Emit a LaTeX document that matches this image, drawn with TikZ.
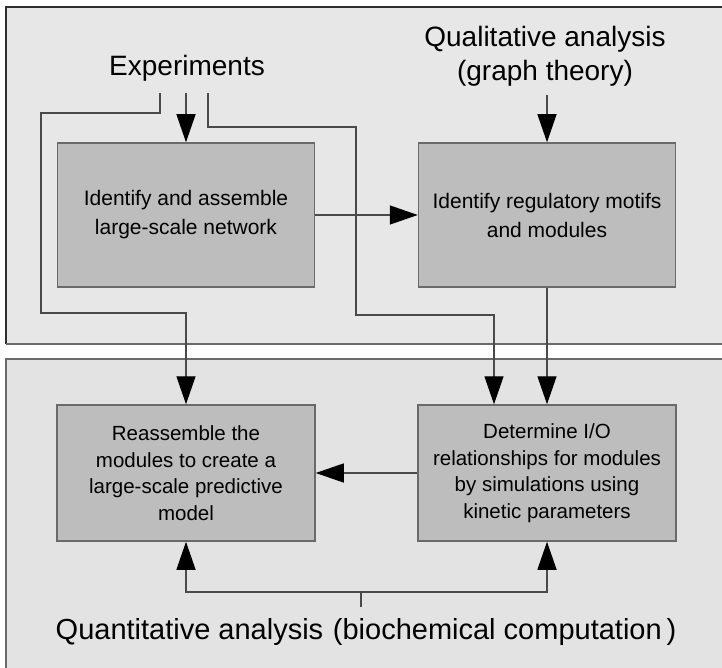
\documentclass[tikz,border=0pt]{standalone}
\usepackage{fontspec}
\setmainfont{Liberation Sans}
\usetikzlibrary{arrows.meta}
\definecolor{panelA}{HTML}{E7E7E7}
\definecolor{panelB}{HTML}{E3E3E3}
\definecolor{boxfill}{HTML}{BDBDBD}
\definecolor{boxline}{HTML}{6A6A6A}
\definecolor{conn}{HTML}{4A4A4A}
\definecolor{frame}{HTML}{2E2E2E}
\tikzset{
  boxnode/.style={draw=boxline, line width=1.5pt, fill=boxfill, inner sep=0pt, align=center},
  toptext/.style={font=\fontsize{21}{29}\selectfont},
  bottext/.style={font=\fontsize{20.5}{26.5}\selectfont},
  biglabel/.style={font=\fontsize{28}{34}\selectfont, inner sep=0pt, align=center},
  conline/.style={draw=conn, line width=1.3pt},
  arr/.style={conline, -{Triangle[length=28pt,width=19pt,color=black]}},
}
\begin{document}
\begin{tikzpicture}[x=1pt,y=-1pt]
\useasboundingbox (0,0) rectangle (722,668);
\fill[white] (0,0) rectangle (722,668);
% panels
\fill[panelA] (6,7) rectangle (730,344);
\draw[frame, line width=2pt] (6,344) -- (6,7) -- (730,7);
\draw[boxline, line width=1.3pt] (6,344) -- (730,344);
\fill[panelB] (6,359) rectangle (730,680);
\draw[boxline, line width=1.3pt] (6,680) -- (6,359) -- (730,359);
% labels
\node[biglabel] (exp) at (187,68) {Experiments};
\node[biglabel] (qual) at (545,56) {Qualitative analysis\\(graph theory)};
\node[biglabel, font=\fontsize{29}{34}\selectfont] (quant) at (366,632) {Quantitative analysis\,\,(biochemical computation\,)};
% boxes
\node[boxnode, toptext, minimum width=257pt, minimum height=144pt] (b1) at (186,215) {Identify and assemble\\large-scale network};
\node[boxnode, toptext, minimum width=257pt, minimum height=144pt] (b2) at (547,215) {Identify regulatory motifs\\and modules};
\node[boxnode, bottext, minimum width=258pt, minimum height=136pt] (b3) at (186,473) {Reassemble the\\modules to create a\\large-scale predictive\\model};
\node[boxnode, bottext, minimum width=258pt, minimum height=136pt] (b4) at (547,473) {Determine I/O\\relationships for modules\\by simulations using\\kinetic parameters};
% connector start points
\coordinate (eL) at (160,93);
\coordinate (eM) at (186,93);
\coordinate (eR) at (208,93);
\coordinate (qA) at (547,95);
\coordinate (qS) at (361,607);
% connectors
\draw[arr] (eM) -- (b1.north);
\draw[arr] (qA) -- (b2.north);
\draw[arr] (eL) -- (160,113) -- (41,113) -- (41,313) -- (186,313) -- (b3.north);
\draw[arr] (eR) -- (208,127) -- (356,127) -- (356,315) -- (494,315) -- (b4.north -| 494,0);
\draw[arr] (b2.south) -- (b4.north);
\draw[arr] (b1.east) -- (b2.west);
\draw[arr] (b4.west) -- (b3.east);
\draw[conline] (qS) -- (361,592);
\draw[arr] (361,592) -| (b3.south);
\draw[arr] (361,592) -| (b4.south);
\end{tikzpicture}
\end{document}
